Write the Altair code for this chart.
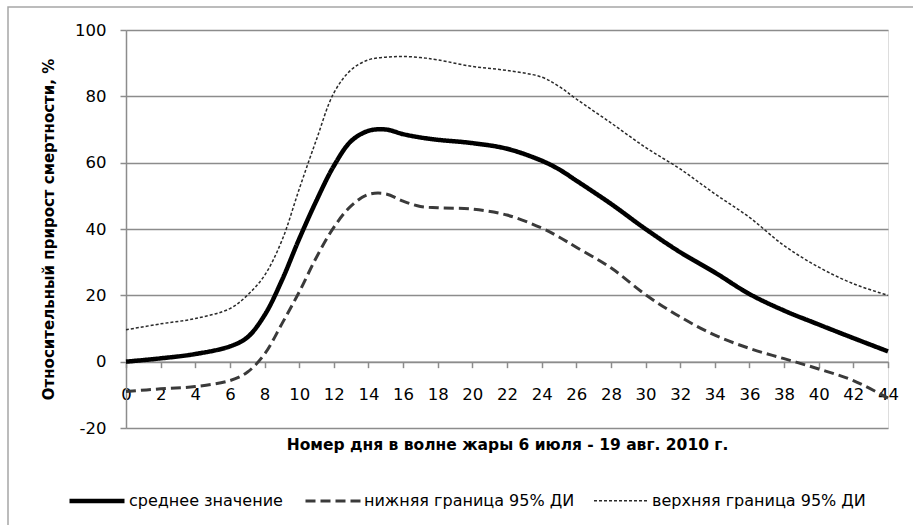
import altair as alt
import pandas as pd

# ---- data ----
days = [0, 2, 4, 6, 7, 8, 9, 10, 11, 12, 13, 14, 15, 16, 17, 18, 20, 22, 24, 25,
        26, 28, 30, 32, 34, 36, 38, 40, 42, 44]
mean_vals = [0, 1.0, 2.3, 4.6, 7.3, 14, 24.5, 37, 48.6, 59, 66.5, 69.6, 70, 68.6, 67.6,
             66.9, 65.9, 64.2, 60.6, 58, 54.6, 47.6, 40, 33, 26.9, 20.4, 15.4, 11.2, 7.1, 3.1]
lower_vals = [-9, -8.2, -7.5, -5.7, -3.2, 2.3, 11.4, 21, 31.5, 40.5, 47, 50.4, 50.6, 48.4,
              46.8, 46.4, 46, 44.2, 40.3, 37.6, 34.5, 28.3, 20.2, 13.5, 8, 4, 0.9, -2.2,
              -5.7, -11]
upper_vals = [9.6, 11.4, 13, 16, 20, 26, 36.5, 52, 67, 81, 88, 91, 91.8, 92, 91.7, 91,
              89, 87.8, 85.8, 83, 79.2, 72, 64.6, 58.1, 50.6, 43.5, 35, 28.5, 23.5, 20]
series_names = ["среднее значение", "нижняя граница 95% ДИ", "верхняя граница 95% ДИ"]
x_ticks = list(range(0, 45, 2))
y_ticks = [-20, 0, 20, 40, 60, 80, 100]
x_title = "Номер дня в волне жары 6 июля - 19 авг. 2010 г."
y_title = "Относительный прирост смертности, %"

rows = []
for name, vals in zip(series_names, [mean_vals, lower_vals, upper_vals]):
    for d, v in zip(days, vals):
        rows.append({"day": d, "value": v, "series": name, "order": series_names.index(name)})
df = pd.DataFrame(rows)

W, H = 762, 398
FONT = "DejaVu Sans"
GRID = "#8c8c8c"
HYPHEN_LABEL = "datum.value < 0 ? '-' + abs(datum.value) : '' + datum.value"

legend = alt.Legend(
    orient="none", legendX=-59, legendY=441, direction="horizontal", title=None,
    symbolType="stroke", symbolSize=3025, labelFontSize=16, labelFont=FONT,
    labelColor="#000000", columnPadding=16, labelOffset=2, labelLimit=0,
)

lines = alt.Chart(df).mark_line(interpolate="catmull-rom").encode(
    x=alt.X("day:Q",
            scale=alt.Scale(domain=[0, 44], nice=False, zero=False),
            axis=alt.Axis(values=x_ticks, format="d", grid=False, offset=-66.33,
                          domainColor=GRID, domainWidth=1.5, tickColor=GRID,
                          tickWidth=1.5, tickSize=6, labelFont=FONT, labelFontSize=16.5,
                          labelColor="#000000", labelPadding=19, labelBaseline="top",
                          labelFlush=False, labelOverlap=False,
                          title=x_title, titleFont=FONT, titleFontSize=15.5,
                          titleFontWeight="bold", titleColor="#000000",
                          titleX=W / 2, titleY=83.3, titleAlign="center",
                          titleBaseline="middle", titleAnchor="middle")),
    y=alt.Y("value:Q",
            scale=alt.Scale(domain=[-20, 100], nice=False),
            axis=alt.Axis(values=y_ticks, grid=True, gridColor=GRID, gridWidth=1.5,
                          domainColor=GRID, domainWidth=1.5, tickColor=GRID,
                          tickWidth=1.5, tickSize=6, labelFont=FONT, labelFontSize=16.5,
                          labelColor="#000000", labelPadding=14, labelExpr=HYPHEN_LABEL,
                          labelFlush=False, labelOverlap=False,
                          title=y_title, titleFont=FONT, titleFontSize=15,
                          titleFontWeight="bold", titleColor="#000000",
                          titleAngle=270, titleX=-78, titleY=H / 2,
                          titleAlign="center", titleBaseline="middle")),
    color=alt.Color("series:N",
                    scale=alt.Scale(domain=series_names,
                                    range=["#000000", "#3a3a3a", "#2a2a2a"]),
                    legend=legend),
    strokeDash=alt.StrokeDash("series:N",
                              scale=alt.Scale(domain=series_names,
                                              range=[[1, 0], [10, 5], [3, 2]]),
                              legend=legend),
    strokeWidth=alt.StrokeWidth("series:N",
                                scale=alt.Scale(domain=series_names,
                                                range=[4.5, 1.5, 1.5]),
                                legend=legend),
    detail="series:N",
    order=alt.Order("order:Q"),
)

border = alt.Chart(alt.Data(values=[{"k": 1}])).mark_rect(
    fill="transparent", stroke="#a6a6a6", strokeWidth=1.5
).encode(
    x=alt.value(-118), x2=alt.value(W + 40), y=alt.value(-23), y2=alt.value(H + 120)
)

chart = alt.layer(border, lines).properties(
    width=W, height=H,
    padding={"left": 126, "top": 30, "right": 25, "bottom": 97},
    autosize=alt.AutoSizeParams(type="none"),
).configure_view(strokeWidth=0).configure(background="white")

chart.save("out.html", embed_options={"renderer": "svg", "actions": False})
